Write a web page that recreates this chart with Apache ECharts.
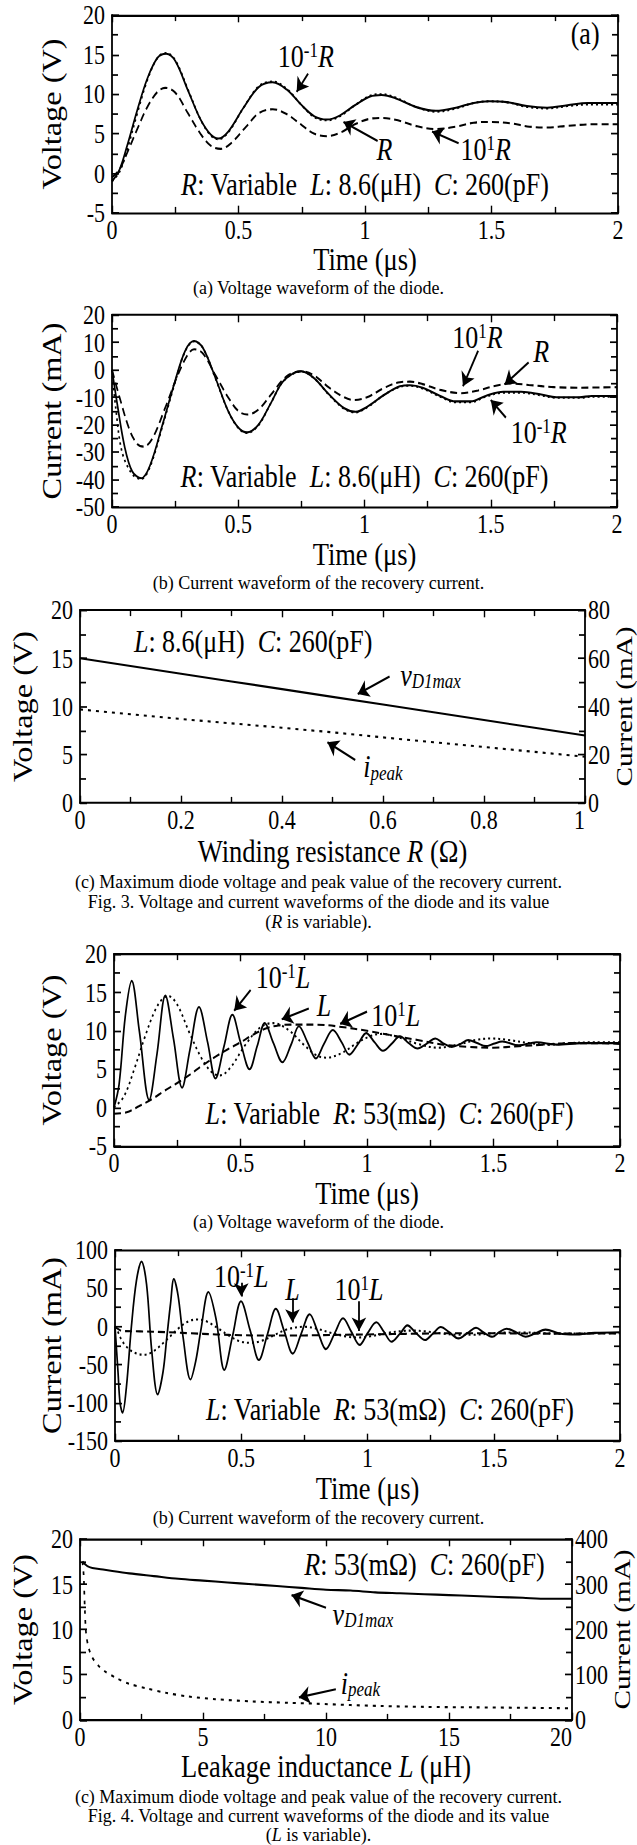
<!DOCTYPE html>
<html><head><meta charset="utf-8">
<script src="https://cdn.jsdelivr.net/npm/echarts@6/dist/echarts.min.js"></script>
<style>
html,body{margin:0;padding:0;background:#fff;overflow:hidden}
#wrap{width:637px;height:1845px;position:relative;overflow:hidden}
#c{width:637px;position:absolute;left:0;top:0;transform-origin:0 0}
</style>
</head><body><div id="wrap"><div id="c"></div></div><script>
// ---------- DATA ----------
// Fig.3(a) voltage, R variable  [time us, volt]
const f3a_R01 = [[0,-1.0],[0.03,0.2],[0.06,3.0],[0.1,7.6],[0.14,11.8],[0.18,14.6],[0.214,15.2],[0.25,14.3],[0.3,10.6],[0.35,6.8],[0.39,4.8],[0.42,4.3],[0.46,5.2],[0.52,8.3],[0.58,11.0],[0.635,11.6],[0.69,10.7],[0.75,8.6],[0.8,7.1],[0.85,6.7],[0.9,7.2],[0.96,8.6],[1.02,9.8],[1.065,10.0],[1.12,9.6],[1.2,8.4],[1.28,7.8],[1.36,8.2],[1.43,8.9],[1.49,9.1],[1.56,9.0],[1.64,8.4],[1.72,8.2],[1.8,8.5],[1.88,8.7],[2.0,8.7]];
const f3a_R = [[0,-1.0],[0.03,0.5],[0.06,3.5],[0.1,8.0],[0.14,12.0],[0.18,14.6],[0.214,15.1],[0.25,14.2],[0.3,10.5],[0.35,6.8],[0.39,4.9],[0.42,4.4],[0.46,5.3],[0.52,8.3],[0.58,10.9],[0.635,11.5],[0.69,10.6],[0.75,8.6],[0.8,7.2],[0.85,6.8],[0.9,7.3],[0.96,8.6],[1.02,9.7],[1.065,9.9],[1.12,9.5],[1.2,8.4],[1.28,7.9],[1.36,8.3],[1.43,8.9],[1.49,9.1],[1.56,9.0],[1.64,8.5],[1.72,8.3],[1.8,8.6],[1.88,8.9],[2.0,8.9]];
const f3a_R10 = [[0,-0.5],[0.03,0.5],[0.06,2.6],[0.1,5.6],[0.14,8.4],[0.18,10.3],[0.21,10.8],[0.25,10.2],[0.3,7.6],[0.35,5.0],[0.39,3.5],[0.43,3.1],[0.47,3.8],[0.53,5.9],[0.58,7.6],[0.635,8.1],[0.69,7.5],[0.75,6.1],[0.8,5.0],[0.85,4.7],[0.9,5.1],[0.96,6.2],[1.02,6.9],[1.07,7.0],[1.13,6.7],[1.2,6.0],[1.28,5.6],[1.36,5.9],[1.43,6.4],[1.5,6.5],[1.58,6.3],[1.65,5.9],[1.72,5.8],[1.8,6.0],[1.9,6.2],[2.0,6.2]];
// Fig.3(b) current, R variable [time us, mA]
const f3b_R01 = [[0,0],[0.015,-14],[0.04,-30],[0.08,-38],[0.116,-39.8],[0.15,-35.5],[0.2,-20.5],[0.25,-4.5],[0.29,6.8],[0.325,10.4],[0.36,8],[0.41,-3.2],[0.46,-15],[0.5,-21.2],[0.535,-23],[0.58,-20.2],[0.63,-12],[0.68,-4],[0.75,-0.6],[0.8,-3],[0.86,-9.2],[0.92,-14.2],[0.965,-15.5],[1.01,-13.7],[1.08,-9],[1.14,-6.2],[1.18,-5.8],[1.23,-6.8],[1.3,-9.8],[1.36,-11.8],[1.42,-11.8],[1.48,-9.8],[1.55,-8.3],[1.62,-8.3],[1.7,-9.3],[1.76,-10.2],[1.85,-10.2],[1.9,-9.8],[2.0,-9.8]];
const f3b_R = [[0,0],[0.02,-12],[0.05,-28],[0.08,-37],[0.116,-39.5],[0.15,-35],[0.2,-20],[0.25,-4],[0.29,7],[0.325,10.5],[0.36,8],[0.41,-3],[0.46,-15],[0.5,-21],[0.535,-22.8],[0.58,-20],[0.63,-12],[0.68,-4],[0.75,-0.5],[0.8,-3],[0.86,-9],[0.92,-14],[0.965,-15.3],[1.01,-13.5],[1.08,-9],[1.14,-6],[1.18,-5.6],[1.23,-6.5],[1.3,-9.5],[1.36,-11.5],[1.42,-11.5],[1.48,-9.5],[1.55,-8.0],[1.62,-8],[1.7,-9],[1.76,-10],[1.85,-10],[1.9,-9.5],[2.0,-9.5]];
const f3b_R10 = [[0,0],[0.03,-10],[0.07,-22],[0.1,-27],[0.125,-28],[0.16,-25],[0.21,-14],[0.26,-2],[0.3,5.5],[0.325,7.5],[0.36,6],[0.41,-2],[0.46,-10],[0.5,-15],[0.535,-16.3],[0.58,-14.5],[0.63,-9],[0.69,-2.5],[0.75,-0.5],[0.8,-2],[0.86,-6.5],[0.92,-10],[0.96,-11],[1.01,-10],[1.08,-6.5],[1.14,-4.5],[1.18,-4.3],[1.23,-5.2],[1.3,-7.3],[1.38,-8.5],[1.45,-7.5],[1.52,-5.8],[1.58,-5],[1.65,-5.5],[1.75,-6.3],[1.85,-6.5],[2.0,-6.3]];
// Fig.3(c) vs winding resistance R (ohm)
const f3c_R = [0,0.1,0.2,0.3,0.4,0.5,0.6,0.7,0.8,0.9,1.0];
const f3c_vD1max = [15.0,14.2,13.4,12.6,11.8,11.0,10.2,9.4,8.6,7.8,7.0];
const f3c_ipeak = [38.8,36.8,34.8,33.0,31.2,29.3,27.2,25.2,23.2,21.2,19.2];
// Fig.4(a) voltage, L variable [time us, volt]
const f4a_L01 = [[0,0],[0.02,3],[0.045,12],[0.07,16.5],[0.1,10],[0.139,1.0],[0.17,7],[0.203,14.6],[0.235,9],[0.269,2.6],[0.3,7.5],[0.336,13.1],[0.37,8.5],[0.401,3.8],[0.435,8],[0.468,12.1],[0.5,8.5],[0.536,5.0],[0.566,8],[0.596,11.0],[0.63,8.4],[0.666,5.9],[0.7,8.2],[0.731,10.6],[0.765,8.5],[0.798,6.4],[0.83,8.3],[0.865,10.1],[0.9,8.5],[0.93,6.9],[0.965,8.3],[0.997,9.7],[1.03,8.5],[1.063,7.4],[1.1,8.4],[1.13,9.3],[1.165,8.4],[1.2,7.7],[1.235,8.3],[1.27,9.0],[1.3,8.4],[1.335,7.9],[1.37,8.3],[1.4,8.8],[1.435,8.4],[1.47,8.0],[1.5,8.3],[1.535,8.6],[1.6,8.1],[1.67,8.5],[1.75,8.2],[1.85,8.4],[2.0,8.4]];
const f4a_L = [[0,0],[0.04,1.5],[0.08,5],[0.12,9],[0.16,12.5],[0.19,14.1],[0.215,14.5],[0.25,13.4],[0.3,9.6],[0.35,6.2],[0.39,4.5],[0.42,4.2],[0.46,5.2],[0.52,8.2],[0.58,10.5],[0.63,11.0],[0.69,10.1],[0.75,8.2],[0.8,6.8],[0.84,6.5],[0.9,7.1],[0.96,8.4],[1.02,9.4],[1.06,9.6],[1.12,9.2],[1.2,8.3],[1.28,7.8],[1.36,8.2],[1.43,8.8],[1.49,9.0],[1.56,8.8],[1.64,8.4],[1.72,8.2],[1.8,8.4],[1.9,8.5],[2.0,8.5]];
const f4a_L10 = [[0,-0.8],[0.05,-0.6],[0.1,0.2],[0.15,1.1],[0.2,2.2],[0.25,3.2],[0.3,4.3],[0.35,5.5],[0.4,6.6],[0.45,7.6],[0.5,8.5],[0.55,9.5],[0.6,10.3],[0.65,10.7],[0.7,10.8],[0.8,10.8],[0.9,10.5],[1.0,10.0],[1.1,9.4],[1.2,8.8],[1.3,8.2],[1.4,7.9],[1.5,7.8],[1.6,8.0],[1.7,8.2],[1.8,8.4],[1.9,8.4],[2.0,8.3]];
// Fig.4(b) current, L variable [time us, mA]
const f4b_L01 = [[0,0],[0.012,-60],[0.02,-100],[0.03,-113],[0.045,-80],[0.065,0],[0.085,60],[0.105,85],[0.125,55],[0.145,-30],[0.169,-89],[0.19,-60],[0.205,-15],[0.22,30],[0.233,62],[0.25,40],[0.27,-15],[0.299,-69.5],[0.32,-45],[0.34,-5],[0.37,45],[0.4,10],[0.433,-57],[0.466,-12],[0.499,33],[0.535,-5],[0.57,-44],[0.604,-10],[0.637,23],[0.67,-6],[0.704,-35.6],[0.737,-10],[0.771,16],[0.803,-7],[0.835,-29.7],[0.87,-9],[0.903,10.6],[0.936,-7],[0.969,-24.2],[1.0,-9],[1.035,5.5],[1.065,-7],[1.095,-20],[1.13,-9],[1.158,1.3],[1.19,-8],[1.228,-17.8],[1.26,-9],[1.29,-0.8],[1.325,-8],[1.36,-15.7],[1.395,-9],[1.43,-1.7],[1.46,-8],[1.495,-13.6],[1.52,-8],[1.55,-3],[1.59,-8],[1.626,-13.6],[1.665,-9],[1.705,-4.2],[1.76,-9.3],[1.82,-10.6],[1.9,-8.5],[2.0,-7.6]];
const f4b_L = [[0,0],[0.01,-6],[0.03,-20],[0.06,-31],[0.09,-36],[0.116,-37],[0.15,-33],[0.2,-19],[0.25,-3],[0.29,6.5],[0.325,9],[0.36,7],[0.41,-3],[0.46,-14],[0.5,-20],[0.535,-21.5],[0.58,-19],[0.63,-11.5],[0.68,-4],[0.75,-0.5],[0.8,-3],[0.86,-9],[0.92,-13.5],[0.965,-14.5],[1.01,-13],[1.08,-8.5],[1.14,-6],[1.18,-5.5],[1.23,-6.5],[1.3,-9.5],[1.36,-11],[1.42,-11],[1.48,-9.5],[1.55,-8],[1.62,-8],[1.7,-9],[1.8,-9.5],[1.9,-9],[2.0,-9]];
const f4b_L10 = [[0,0],[0.01,-3],[0.03,-6],[0.1,-6.5],[0.2,-7.5],[0.3,-9],[0.4,-10.5],[0.5,-11.5],[0.6,-12],[0.7,-12],[0.8,-11.5],[0.9,-11],[1.0,-10.5],[1.1,-10],[1.2,-9.5],[1.3,-9],[1.4,-9],[1.5,-9],[1.6,-9.3],[1.7,-9.5],[1.8,-9.5],[1.9,-9.3],[2.0,-9.2]];
// Fig.4(c) vs leakage inductance L (uH)
const f4c_L = [0.1,0.3,0.5,1,2,3,4,5,6,7,8,9,10,11,12,13,14,15,16,17,18,19,20];
const f4c_vD1max = [17.5,17.0,16.8,16.6,16.2,15.9,15.6,15.4,15.2,15.0,14.8,14.6,14.4,14.3,14.1,14.0,13.9,13.8,13.7,13.6,13.5,13.4,13.4];
const f4c_ipeakL = [0.1,0.15,0.2,0.25,0.35,0.5,0.75,1,1.5,2,2.7,3.5,4.4,5.5,7,8.5,9.6,11,12.2,14,16,18,20];
const f4c_ipeak = [350,320,240,190,160,138,120,108,92,80,70,60,52,46,41,38,36,33,31,29,28,27,26];
// axis ranges [min, max, label step]
const ax_time = [0, 2, 0.5];
const ax_f3a_V = [-5, 20, 5];
const ax_f3b_I = [-50, 20, 10];
const ax_f3c_R = [0, 1, 0.2];
const ax_f3c_V = [0, 20, 5];
const ax_f3c_I = [0, 80, 20];
const ax_f4a_V = [-5, 20, 5];
const ax_f4b_I = [-150, 100, 50];
const ax_f4c_L = [0, 20, 5];
const ax_f4c_V = [0, 20, 5];
const ax_f4c_I = [0, 400, 100];

// ---------- STYLE / LAYOUT ----------
const S = 1.22;                 // the printed figure is vertically stretched
const H = 1845 / S;
const Y = v => v / S;
const el = document.getElementById('c');
el.style.height = H + 'px';
el.style.transform = 'scaleY(' + S + ')';
const FONT = 'Liberation Serif, Times New Roman, serif';
const chart = echarts.init(el, null, {renderer:'svg', width:637, height:H});
// [left, right, top, bottom] in final page pixels
const boxes = [
  [112, 618, 15, 213],
  [112, 617, 315, 507],
  [80, 585, 610, 803],
  [114, 620, 954, 1146],
  [115, 620, 1250, 1441],
  [80, 572, 1539, 1720]
];
const grids = boxes.map(b => ({left:b[0], width:b[1]-b[0], top:Y(b[2]), height:Y(b[3]-b[2]),
  containLabel:false, outerBoundsMode:'none'}));
const RICH = {
  n:{fontFamily:FONT, fontSize:26, color:'#000', lineHeight:27},
  i:{fontFamily:FONT, fontSize:26, fontStyle:'italic', color:'#000', lineHeight:27},
  sup:{fontFamily:FONT, fontSize:17, color:'#000', lineHeight:27, verticalAlign:'top'},
  sub:{fontFamily:FONT, fontSize:17, fontStyle:'italic', color:'#000', lineHeight:27, verticalAlign:'bottom'},
  cn:{fontFamily:FONT, fontSize:18, color:'#000'},
  ci:{fontFamily:FONT, fontSize:18, fontStyle:'italic', color:'#000'},
  an:{fontFamily:FONT, fontSize:26.5, color:'#000'},
  ai:{fontFamily:FONT, fontSize:26.5, fontStyle:'italic', color:'#000'}
};
function axis(gi, rng, pos, opts) {
  const o = opts || {};
  const horiz = (pos === 'bottom' || pos === 'top');
  return {
    type:'value', gridIndex:gi, position:pos, min:rng[0], max:rng[1], interval:rng[2],
    axisLine:{show:true, onZero:false, lineStyle:{color:'#000', width:1.8}},
    axisTick:{show:true, inside:true, length:horiz ? 6 : 7, lineStyle:{color:'#000', width:1.4}},
    minorTick:{show:true, splitNumber:2, length:horiz ? 5 : 6, lineStyle:{color:'#000', width:1.4}},
    splitLine:{show:false}, minorSplitLine:{show:false},
    axisLabel:{show:!!o.labels, color:'#000', fontFamily:FONT, fontSize:22, margin:o.margin,
      alignMaxLabel:o.alignMax},
    name:o.name||'', nameLocation:'middle', nameGap:o.gap||30, nameRotate:o.rot,
    nameMoveOverlap:false,
    nameTextStyle:{color:'#000', fontFamily:FONT, fontSize:o.nameSize||26.5, rich:RICH}
  };
}
const xAxis = [], yAxis = [];
function addAxes(gi, xr, yr, xname, xgap, yname, ygap, yr2, y2name, y2gap) {
  xAxis.push(axis(gi, xr, 'bottom', {labels:true, name:xname, gap:Y(xgap), margin:Y(3),
    alignMax: yr2 ? 'right' : undefined}));
  xAxis.push(axis(gi, xr, 'top', {}));
  yAxis.push(axis(gi, yr, 'left', {labels:true, name:yname, gap:ygap, rot:90, margin:7}));
  if (yr2) yAxis.push(axis(gi, yr2, 'right', {labels:true, name:y2name, gap:y2gap, rot:90, margin:3, nameSize:24}));
  else yAxis.push(axis(gi, yr, 'right', {}));
}
addAxes(0, ax_time, ax_f3a_V, 'Time (μs)', 30, 'Voltage (V)', 46);
addAxes(1, ax_time, ax_f3b_I, 'Time (μs)', 30.5, 'Current (mA)', 46);
addAxes(2, ax_f3c_R, ax_f3c_V, '{an|Winding resistance }{ai|R}{an| (Ω)}', 32, 'Voltage (V)', 43, ax_f3c_I, 'Current (mA)', 27);
addAxes(3, ax_time, ax_f4a_V, 'Time (μs)', 30.5, 'Voltage (V)', 48);
addAxes(4, ax_time, ax_f4b_I, 'Time (μs)', 31, 'Current (mA)', 49);
addAxes(5, ax_f4c_L, ax_f4c_V, '{an|Leakage inductance }{ai|L}{an| (μH)}', 30, 'Voltage (V)', 43, ax_f4c_I, 'Current (mA)', 38);

const SOLID = 'solid', DOT = [2,3], DASH = [7,4], DOT2 = [3,5];
function line(gi, data, type, z, yRight, extra) {
  return Object.assign({
    type:'line', xAxisIndex:gi*2, yAxisIndex:gi*2 + (yRight?1:0), data:data,
    symbol:'none', showSymbol:false, smooth:0.35, silent:true, animation:false, z:z,
    lineStyle:{color:'#000', width:1.7, type:type}
  }, extra||{});
}
function ann(coord, text) {
  return {coord:coord, symbol:'circle', symbolSize:1, itemStyle:{color:'rgba(0,0,0,0)'},
    label:{show:true, position:'inside', formatter:function(){return text;}, rich:RICH, color:'#000'}};
}
function arrow(a, b) { return [{coord:a, symbol:'none'}, {coord:b, symbol:'arrow'}]; }
function marks(points, arrows) {
  return {
    markPoint:{silent:true, animation:false, data:points},
    markLine:{silent:true, animation:false, symbol:['none','arrow'], symbolSize:11,
      label:{show:false}, emphasis:{disabled:true},
      lineStyle:{color:'#000', width:1.8, type:'solid'}, data:arrows}
  };
}
const sup = (s) => '{sup|' + s + '}';
const series = [];
// Fig 3(a)
series.push(line(0, f3a_R10, DASH, 2));
series.push(line(0, f3a_R01, DOT, 3));
series.push(line(0, f3a_R, SOLID, 4, false, marks([
  ann([0.766,14.8], '{n|10}' + sup('-1') + '{i|R}'),
  ann([1.077,3.1], '{i|R}'),
  ann([1.477,3.1], '{n|10}' + sup('1') + '{i|R}'),
  ann([1.87,17.7], '{n|(a)}'),
  ann([1.0,-1.3], '{i|R}{n|: Variable  }{i|L}{n|: 8.6(μH)  }{i|C}{n|: 260(pF)}')
],[
  arrow([0.775,12.6],[0.73,10.3]),
  arrow([1.05,4.1],[0.915,6.5]),
  arrow([1.37,3.8],[1.265,5.3])
])));
// Fig 3(b)
series.push(line(1, f3b_R10, DASH, 2));
series.push(line(1, f3b_R01, DOT, 3));
series.push(line(1, f3b_R, SOLID, 4, false, marks([
  ann([1.447,12], '{n|10}' + sup('1') + '{i|R}'),
  ann([1.70,7], '{i|R}'),
  ann([1.69,-22.6], '{n|10}' + sup('-1') + '{i|R}'),
  ann([1.0,-38.8], '{i|R}{n|: Variable  }{i|L}{n|: 8.6(μH)  }{i|C}{n|: 260(pF)}')
],[
  arrow([1.45,7],[1.39,-6]),
  arrow([1.65,2.7],[1.555,-5.3]),
  arrow([1.56,-17.4],[1.5,-11])
])));
// Fig 3(c)
series.push(line(2, f3c_R.map((r,i)=>[r, f3c_ipeak[i]]), DOT2, 2, true, {smooth:false}));
series.push(line(2, f3c_R.map((r,i)=>[r, f3c_vD1max[i]]), SOLID, 3, false, Object.assign({smooth:false}, marks([
  ann([0.343,16.8], '{i|L}{n|: 8.6(μH)  }{i|C}{n|: 260(pF)}'),
  ann([0.694,13.3], '{i|v}{sub|D1max}'),
  ann([0.60,3.8], '{i|i}{sub|peak}')
],[
  arrow([0.613,13.1],[0.55,11.3]),
  arrow([0.545,4.45],[0.49,6.3])
]))));
// Fig 4(a)
series.push(line(3, f4a_L10, DASH, 2));
series.push(line(3, f4a_L, DOT, 3));
series.push(line(3, f4a_L01, SOLID, 4, false, marks([
  ann([0.668,17.0], '{n|10}' + sup('-1') + '{i|L}'),
  ann([0.83,13.35], '{i|L}'),
  ann([1.114,12.0], '{n|10}' + sup('1') + '{i|L}'),
  ann([1.089,-0.74], '{i|L}{n|: Variable  }{i|R}{n|: 53(mΩ)  }{i|C}{n|: 260(pF)}')
],[
  arrow([0.54,15.3],[0.475,12.6]),
  arrow([0.77,12.9],[0.663,11.5]),
  arrow([1.0,12.5],[0.894,10.9])
])));
// Fig 4(b)
series.push(line(4, f4b_L10, DASH, 2));
series.push(line(4, f4b_L, DOT, 3));
series.push(line(4, f4b_L01, SOLID, 4, false, marks([
  ann([0.5,66], '{n|10}' + sup('-1') + '{i|L}'),
  ann([0.703,49], '{i|L}'),
  ann([0.966,49], '{n|10}' + sup('1') + '{i|L}'),
  ann([1.089,-108.7], '{i|L}{n|: Variable  }{i|R}{n|: 53(mΩ)  }{i|C}{n|: 260(pF)}')
],[
  arrow([0.5,57],[0.5,39]),
  arrow([0.703,37],[0.703,5]),
  arrow([0.966,33],[0.966,-6])
])));
// Fig 4(c)
series.push(line(5, f4c_ipeakL.map((l,i)=>[l, f4c_ipeak[i]]), DOT2, 2, true, {smooth:0.3}));
series.push(line(5, f4c_L.map((l,i)=>[l, f4c_vD1max[i]]), SOLID, 3, false, Object.assign({smooth:0.3}, marks([
  ann([14.0,17.2], '{i|R}{n|: 53(mΩ)  }{i|C}{n|: 260(pF)}'),
  ann([11.5,11.7], '{i|v}{sub|D1max}'),
  ann([11.4,4.1], '{i|i}{sub|peak}')
],[
  arrow([10.0,12.4],[8.6,13.8]),
  arrow([10.4,3.4],[8.9,2.5])
]))));

// captions: drawn without the vertical stretch so stacked lines keep clear of each other
function cap(y, text) {
  return {type:'text', x:318.5, y:Y(y), scaleY:1/S, silent:true,
    style:{text:text, rich:RICH, fill:'#000', align:'center', verticalAlign:'middle', font:'18px ' + FONT}};
}
const graphic = [
  cap(288, '{cn|(a) Voltage waveform of the diode.}'),
  cap(583, '{cn|(b) Current waveform of the recovery current.}'),
  cap(882, '{cn|(c) Maximum diode voltage and peak value of the recovery current.}'),
  cap(902, '{cn|Fig. 3. Voltage and current waveforms of the diode and its value}'),
  cap(922, '{cn|(}{ci|R}{cn| is variable).}'),
  cap(1222, '{cn|(a) Voltage waveform of the diode.}'),
  cap(1518, '{cn|(b) Current waveform of the recovery current.}'),
  cap(1797, '{cn|(c) Maximum diode voltage and peak value of the recovery current.}'),
  cap(1816, '{cn|Fig. 4. Voltage and current waveforms of the diode and its value}'),
  cap(1835, '{cn|(}{ci|L}{cn| is variable).}')
];

chart.setOption({
  backgroundColor:'#fff', animation:false,
  textStyle:{fontFamily:FONT, color:'#000'},
  grid:grids, xAxis:xAxis, yAxis:yAxis, series:series, graphic:graphic
});
</script></body></html>
